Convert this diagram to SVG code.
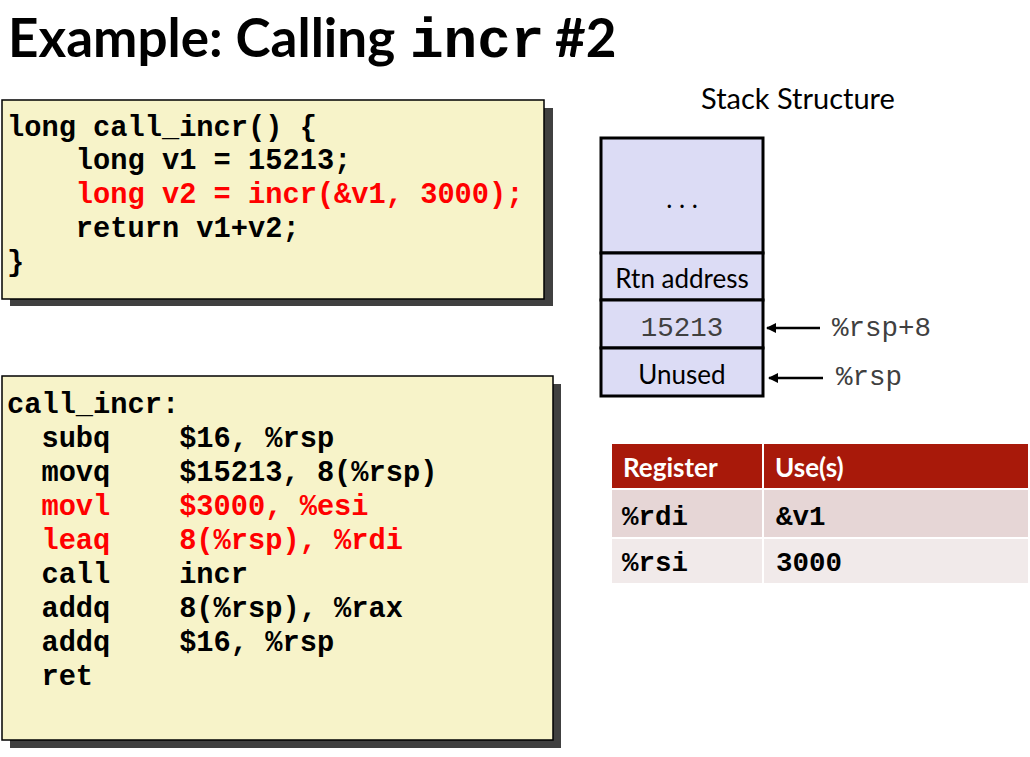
<svg xmlns="http://www.w3.org/2000/svg" width="1030" height="757" viewBox="0 0 1030 757">
<defs>
<style>
.title{font-family:Lato,"Open Sans","Liberation Sans",sans-serif;font-weight:bold;font-size:53px;fill:#000}
.tmono{font-family:"Liberation Mono","DejaVu Sans Mono",monospace;font-weight:bold;font-size:56px;fill:#000}
.code{font-family:"Liberation Mono","DejaVu Sans Mono",monospace;font-weight:bold;font-size:28.7px;fill:#000;white-space:pre}
.red{fill:#ff0000}
.codebox{fill:#f7f3c9;stroke:#000;stroke-width:1.5}
.shadow{fill:#404040}
.sans{font-family:Lato,"Open Sans","Liberation Sans",sans-serif;font-size:26px;fill:#000}
.st{font-size:29px}
.cell{fill:#dcdcf5;stroke:#000;stroke-width:3}
.mono{font-family:"Liberation Mono","DejaVu Sans Mono",monospace;font-size:27.5px;fill:#000}
.grey{fill:#404040}
.th{font-family:Lato,"Open Sans","Liberation Sans",sans-serif;font-weight:bold;font-size:26px;fill:#fff}
.td{font-family:"Liberation Mono","DejaVu Sans Mono",monospace;font-weight:bold;font-size:27.5px;fill:#000}
.arrow{stroke:#000;stroke-width:2.5;fill:none}
</style>
<marker id="ah" viewBox="0 0 10 10" refX="9" refY="5" markerWidth="4.5" markerHeight="4" orient="auto" markerUnits="strokeWidth">
<path d="M0,0 L10,5 L0,10 z" fill="#000"/>
</marker>
</defs>
<rect width="1030" height="757" fill="#fff"/>

<g id="title">
<text x="8" y="57" class="title">Example: Calling <tspan class="tmono" x="410">incr</tspan><tspan x="555">#2</tspan></text>
</g>

<g id="c-code">
<rect x="10" y="108" width="543" height="198" class="shadow"/>
<rect x="2" y="100" width="542" height="199" class="codebox"/>
<text class="code" x="7" y="136">long call_incr() {</text>
<text class="code" x="7" y="169">    long v1 = 15213;</text>
<text class="code red" x="7" y="203">    long v2 = incr(&amp;v1, 3000);</text>
<text class="code" x="7" y="237">    return v1+v2;</text>
<text class="code" x="7" y="271">}</text>
</g>

<g id="asm-code">
<rect x="10" y="384" width="551" height="364" class="shadow"/>
<rect x="2" y="376" width="551" height="364" class="codebox"/>
<text class="code" x="7" y="413">call_incr:</text>
<text class="code" x="7" y="447">  subq    $16, %rsp</text>
<text class="code" x="7" y="481">  movq    $15213, 8(%rsp)</text>
<text class="code red" x="7" y="515">  movl    $3000, %esi</text>
<text class="code red" x="7" y="549">  leaq    8(%rsp), %rdi</text>
<text class="code" x="7" y="583">  call    incr</text>
<text class="code" x="7" y="617">  addq    8(%rsp), %rax</text>
<text class="code" x="7" y="651">  addq    $16, %rsp</text>
<text class="code" x="7" y="685">  ret</text>
</g>

<g id="stack">
<text class="sans st" x="798" y="109" text-anchor="middle">Stack Structure</text>
<g id="stack-dots">
<rect x="601" y="138" width="162" height="115" class="cell"/>
<text class="sans" x="682" y="208" text-anchor="middle">. . .</text>
</g>
<g id="stack-rtn">
<rect x="601" y="253" width="162" height="47" class="cell"/>
<text class="sans" x="682" y="288" text-anchor="middle">Rtn address</text>
</g>
<g id="stack-15213">
<rect x="601" y="300" width="162" height="48" class="cell"/>
<text class="mono grey" x="682" y="336" text-anchor="middle">15213</text>
</g>
<g id="stack-unused">
<rect x="601" y="348" width="162" height="48" class="cell"/>
<text class="sans" x="682" y="384" text-anchor="middle">Unused</text>
</g>
</g>

<g id="connectors">
<line x1="820" y1="328" x2="767" y2="328" class="arrow" marker-end="url(#ah)"/>
<line x1="823" y1="378" x2="769" y2="378" class="arrow" marker-end="url(#ah)"/>
</g>

<g id="label-rsp8"><text class="mono grey" x="832" y="336">%rsp+8</text></g>
<g id="label-rsp"><text class="mono grey" x="836" y="385">%rsp</text></g>

<g id="reg-table">
<rect x="612" y="444" width="150" height="44" fill="#a8190a"/>
<rect x="764" y="444" width="264" height="44" fill="#a8190a"/>
<rect x="612" y="490" width="150" height="47" fill="#e6d6d6"/>
<rect x="764" y="490" width="264" height="47" fill="#e6d6d6"/>
<rect x="612" y="539" width="150" height="44" fill="#f1eaea"/>
<rect x="764" y="539" width="264" height="44" fill="#f1eaea"/>
<text class="th" x="623" y="477">Register</text>
<text class="th" x="775" y="477">Use(s)</text>
<text class="td" x="622" y="525">%rdi</text>
<text class="td" x="776" y="525">&amp;v1</text>
<text class="td" x="622" y="571">%rsi</text>
<text class="td" x="776" y="571">3000</text>
</g>
</svg>
